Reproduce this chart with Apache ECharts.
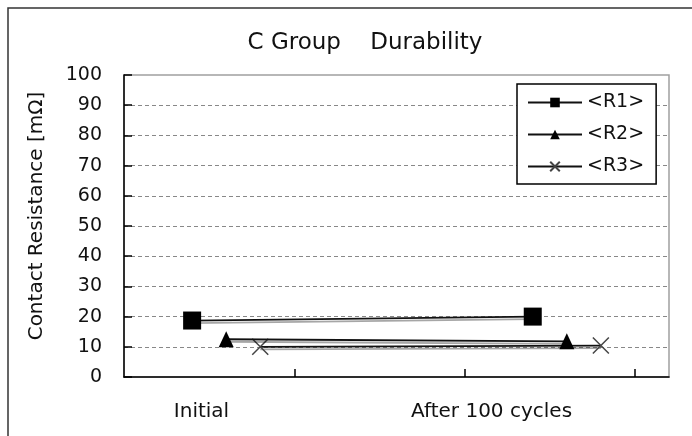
<!DOCTYPE html>
<html>
<head>
<meta charset="utf-8">
<script src="https://cdn.jsdelivr.net/npm/echarts@6/dist/echarts.min.js"></script>
<style>
html,body{margin:0;padding:0;background:#fff;}
#chart{width:692px;height:436px;}
</style>
</head>
<body>
<div id="chart"></div>
<script>
// ---- data ----
const chartTitle = 'C Group    Durability';
const yAxisName = 'Contact Resistance [mΩ]';
const categories = ['Initial', 'After 100 cycles'];
const seriesNames = ['<R1>', '<R2>', '<R3>'];
const r1 = [18.7, 20.0];
const r2 = [12.5, 11.8];
const r3 = [10.0, 10.4];
const yMin = 0, yMax = 100, yStep = 10;

// ---- layout helpers (positions along the x axis) ----
const groupStart = [0, 2];          // start of each category group on x scale
const seriesOffset = [0.4, 0.6, 0.8];
const labelPos = [0.455, 2.158];    // where category names sit on x scale

const values = [r1, r2, r3];
const symbols = ['rect', 'triangle', 'path://M0,0L1,1M1,0L0,1'];
const symbolSizes = [18, [15, 16], 16];

const FONT = 'DejaVu Sans';

const series = values.map((vals, si) => ({
  name: seriesNames[si],
  type: 'line',
  data: vals.map((v, ci) => [groupStart[ci] + seriesOffset[si], v]),
  symbol: symbols[si],
  symbolSize: symbolSizes[si],
  showAllSymbol: true,
  color: '#000',
  lineStyle: { color: '#111', width: 1.8, shadowColor: 'rgba(0,0,0,0.35)', shadowOffsetY: 2.5, shadowBlur: 0 },
  itemStyle: si === 2
    ? { color: '#444', borderColor: '#444', borderWidth: 1.5 }
    : { color: '#000' },
  emphasis: { disabled: true },
  z: 3 - si
}));

const chart = echarts.init(document.getElementById('chart'), null, { renderer: 'canvas' });
chart.setOption({
  animation: false,
  backgroundColor: '#fff',
  title: {
    text: chartTitle,
    left: 360, top: 27, textAlign: 'center',
    textStyle: { fontFamily: FONT, fontSize: 23, fontWeight: 'normal', color: '#111' }
  },
  graphic: [{
    type: 'rect', silent: true, z: 0,
    shape: { x: 8, y: 8, width: 760, height: 500 },
    style: { fill: 'none', stroke: '#333', lineWidth: 1.5 }
  }],
  legend: {
    orient: 'vertical',
    left: 517, top: 84,
    padding: [9, 12, 8, 10],
    itemGap: 13,
    itemWidth: 54, itemHeight: 12,
    backgroundColor: '#fff',
    borderColor: '#000', borderWidth: 1.5,
    textStyle: { fontFamily: FONT, fontSize: 19, color: '#111' },
    data: seriesNames
  },
  grid: {
    left: 124, right: 23, top: 75, bottom: 59,
    show: true, borderColor: '#a0a0a0', borderWidth: 1.5, backgroundColor: '#fff'
  },
  xAxis: {
    type: 'value', min: 0, max: 3.2, interval: 1,
    axisLine: { show: true, lineStyle: { color: '#000', width: 1.5 } },
    axisTick: { show: true, inside: true, length: 8, customValues: [1, 2, 3], lineStyle: { color: '#000', width: 1.5 } },
    axisLabel: {
      customValues: labelPos,
      formatter: function (v) {
        let best = 0;
        labelPos.forEach((p, i) => { if (Math.abs(p - v) < Math.abs(labelPos[best] - v)) best = i; });
        return categories[best];
      },
      margin: 25,
      fontFamily: FONT, fontSize: 20, color: '#111'
    },
    splitLine: { show: false }
  },
  yAxis: {
    type: 'value', min: yMin, max: yMax, interval: yStep,
    name: yAxisName,
    nameLocation: 'middle', nameGap: 77,
    nameTextStyle: { fontFamily: FONT, fontSize: 20, color: '#111', padding: [0, 0, 0, 20] },
    axisLine: { show: true, lineStyle: { color: '#000', width: 1.5 } },
    axisTick: { show: true, inside: true, length: 8, lineStyle: { color: '#000', width: 1.5 } },
    axisLabel: { margin: 22, fontFamily: FONT, fontSize: 19, color: '#111' },
    splitLine: { show: true, showMinLine: false, showMaxLine: false, lineStyle: { color: '#888', type: [4, 3], width: 1.2 } }
  },
  series: series
});
</script>
</body>
</html>
